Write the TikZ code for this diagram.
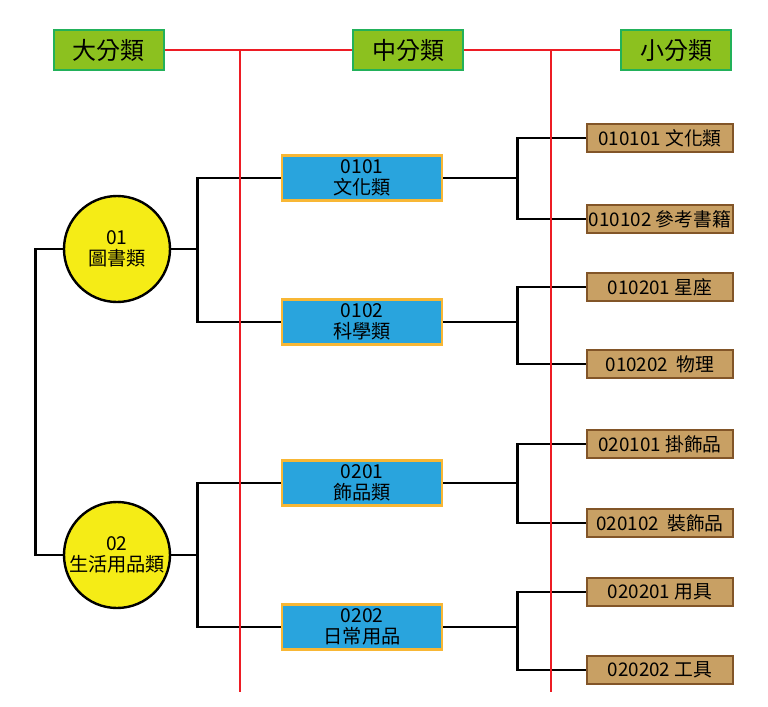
\documentclass[tikz,border=0pt]{standalone}
\usepackage{fontspec}
\setmainfont{Noto Sans CJK TC}
\usetikzlibrary{positioning}
\definecolor{headgreen}{RGB}{140,193,31}
\definecolor{headedge}{RGB}{34,177,90}
\definecolor{majoryellow}{RGB}{245,236,22}
\definecolor{midblue}{RGB}{41,164,221}
\definecolor{midedge}{RGB}{248,183,53}
\definecolor{minortan}{RGB}{200,160,100}
\definecolor{minoredge}{RGB}{130,85,40}
\definecolor{rulered}{RGB}{237,28,36}

\begin{document}
\begin{tikzpicture}[x=.5pt,y=-.5pt,
  head/.style={draw=headedge,line width=1.4pt,fill=headgreen,
    minimum width=55pt,minimum height=20pt,inner sep=0pt,
    font=\fontsize{12}{14}\selectfont},
  major/.style={circle,draw=black,line width=1.2pt,fill=majoryellow,
    minimum size=53pt,inner sep=0pt,align=center,
    font=\fontsize{9.6}{10.8}\selectfont},
  middle/.style={draw=midedge,line width=1.4pt,fill=midblue,
    minimum width=80pt,minimum height=22.5pt,inner sep=0pt,align=center,
    font=\fontsize{9.6}{10.8}\selectfont},
  minor/.style={draw=minoredge,line width=1.4pt,fill=minortan,
    minimum width=73pt,minimum height=14pt,inner sep=0pt,
    font=\fontsize{9.4}{10.5}\selectfont},
  bus/.style={draw=black,line width=1.4pt},
  rule/.style={draw=rulered,line width=1.2pt}
]
\useasboundingbox (0,0) rectangle (768,707);
% header row
\node[head] (big) at (109,50) {大分類};
\node[head] (mid) at (408,50) {中分類};
\node[head] (small) at (676,50) {小分類};
% major classes
\node[major] (c01) at (117,249) {01\\圖書類};
\node[major] (c02) at (117,555) {02\\生活用品類};
% middle classes
\node[middle] (b0101) at (362,178) {0101\\文化類};
\node[middle] (b0102) at (362,322) {0102\\科學類};
\node[middle] (b0201) at (362,483) {0201\\飾品類};
\node[middle] (b0202) at (362,627) {0202\\日常用品};
% minor classes
\node[minor] (s010101) at (660,138) {010101 文化類};
\node[minor] (s010102) at (660,219) {010102 參考書籍};
\node[minor] (s010201) at (660,287) {010201 星座};
\node[minor] (s010202) at (660,364) {010202~~物理};
\node[minor] (s020101) at (660,444) {020101 掛飾品};
\node[minor] (s020102) at (660,523) {020102~~裝飾品};
\node[minor] (s020201) at (660,592) {020201 用具};
\node[minor] (s020202) at (660,670) {020202 工具};
% tree lines
\draw[bus] (c01.west) -- ++(-27,0) |- (c02.west);
\draw[bus] (c01.east) -- ++(26,0) |- (b0101.west);
\draw[bus] (c01.east) -- ++(26,0) |- (b0102.west);
\draw[bus] (c02.east) -- ++(26,0) |- (b0201.west);
\draw[bus] (c02.east) -- ++(26,0) |- (b0202.west);
\draw[bus] (b0101.east) -- ++(74,0) |- (s010101.west);
\draw[bus] (b0101.east) -- ++(74,0) |- (s010102.west);
\draw[bus] (b0102.east) -- ++(74,0) |- (s010201.west);
\draw[bus] (b0102.east) -- ++(74,0) |- (s010202.west);
\draw[bus] (b0201.east) -- ++(74,0) |- (s020101.west);
\draw[bus] (b0201.east) -- ++(74,0) |- (s020102.west);
\draw[bus] (b0202.east) -- ++(74,0) |- (s020201.west);
\draw[bus] (b0202.east) -- ++(74,0) |- (s020202.west);
% column rules
\coordinate (rule1) at (240,50);
\coordinate (rule1end) at (240,692);
\coordinate (rule2) at (551,50);
\coordinate (rule2end) at (551,692);
\draw[rule] (big.east) -- (mid.west);
\draw[rule] (mid.east) -- (small.west);
\draw[rule] (rule1) -- (rule1end);
\draw[rule] (rule2) -- (rule2end);
\end{tikzpicture}
\end{document}
